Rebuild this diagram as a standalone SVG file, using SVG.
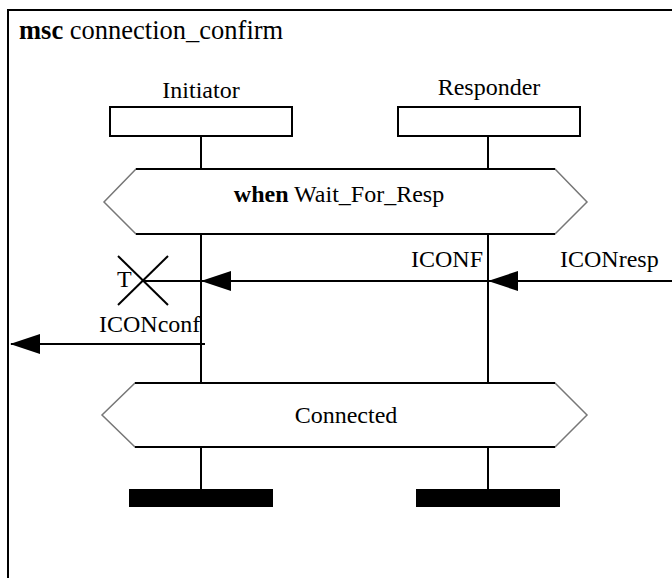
<svg xmlns="http://www.w3.org/2000/svg" width="672" height="578" viewBox="0 0 672 578">
  <style>
    text { font-family: "Liberation Serif", "Times New Roman", serif; fill: #000; }
    .lbl { font-size: 24px; }
    .ttl { font-size: 26.5px; }
    .line { stroke: #000; stroke-width: 2; fill: none; }
    .hex { fill: #fff; stroke: #777; stroke-width: 1.5; }
    .box { fill: #fff; stroke: #000; stroke-width: 2; }
  </style>
  <defs>
    <marker id="arr" markerUnits="userSpaceOnUse" markerWidth="30" markerHeight="20" viewBox="0 0 30 20" refX="29" refY="10" orient="auto">
      <path d="M0,0 L30,10 L0,20 z" fill="#000"/>
    </marker>
  </defs>
  <rect width="672" height="578" fill="#fff"/>
  <g id="frame">
    <rect x="8" y="10" width="700" height="600" fill="none" stroke="#000" stroke-width="2"/>
    <text x="19" y="39" class="ttl"><tspan font-weight="bold">msc</tspan> connection_confirm</text>
  </g>
  <g id="initiator">
    <text x="201" y="98" class="lbl" text-anchor="middle">Initiator</text>
    <rect x="110" y="107" width="182" height="29" class="box"/>
    <line x1="201" y1="136" x2="201" y2="169" class="line"/>
    <line x1="201" y1="234" x2="201" y2="383" class="line"/>
    <line x1="201" y1="447" x2="201" y2="489" class="line"/>
    <rect x="129" y="489" width="144" height="18" fill="#000"/>
  </g>
  <g id="responder">
    <text x="489" y="95" class="lbl" text-anchor="middle">Responder</text>
    <rect x="398" y="107" width="182" height="29" class="box"/>
    <line x1="488" y1="136" x2="488" y2="169" class="line"/>
    <line x1="488" y1="234" x2="488" y2="383" class="line"/>
    <line x1="488" y1="447" x2="488" y2="489" class="line"/>
    <rect x="416" y="489" width="144" height="18" fill="#000"/>
  </g>
  <g id="cond_wait">
    <polygon points="136,169 555,169 587,202 555,234 136,234 104,202" class="hex"/>
    <line x1="136" y1="169" x2="555" y2="169" class="line"/>
    <line x1="136" y1="234" x2="555" y2="234" class="line"/>
    <text x="339" y="202" class="lbl" text-anchor="middle"><tspan font-weight="bold">when</tspan> Wait_For_Resp</text>
  </g>
  <g id="cond_connected">
    <polygon points="135,383 555,383 587,415 555,447 135,447 102,415" class="hex"/>
    <line x1="135" y1="383" x2="555" y2="383" class="line"/>
    <line x1="135" y1="447" x2="555" y2="447" class="line"/>
    <text x="346" y="423" class="lbl" text-anchor="middle">Connected</text>
  </g>
  <g id="timer">
    <line x1="118" y1="256" x2="168" y2="305" class="line"/>
    <line x1="168" y1="256" x2="118" y2="305" class="line"/>
    <text x="117" y="287" class="lbl">T</text>
  </g>
  <g id="connectors">
    <line x1="143" y1="281" x2="201" y2="281" class="line"/>
    <line x1="672" y1="281" x2="489" y2="281" class="line" marker-end="url(#arr)"/>
    <text x="560" y="267" class="lbl">ICONresp</text>
    <line x1="488" y1="281" x2="202" y2="281" class="line" marker-end="url(#arr)"/>
    <text x="483" y="267" class="lbl" text-anchor="end">ICONF</text>
    <line x1="205" y1="344" x2="11" y2="344" class="line" marker-end="url(#arr)"/>
    <text x="99" y="332" class="lbl">ICONconf</text>
  </g>
</svg>
